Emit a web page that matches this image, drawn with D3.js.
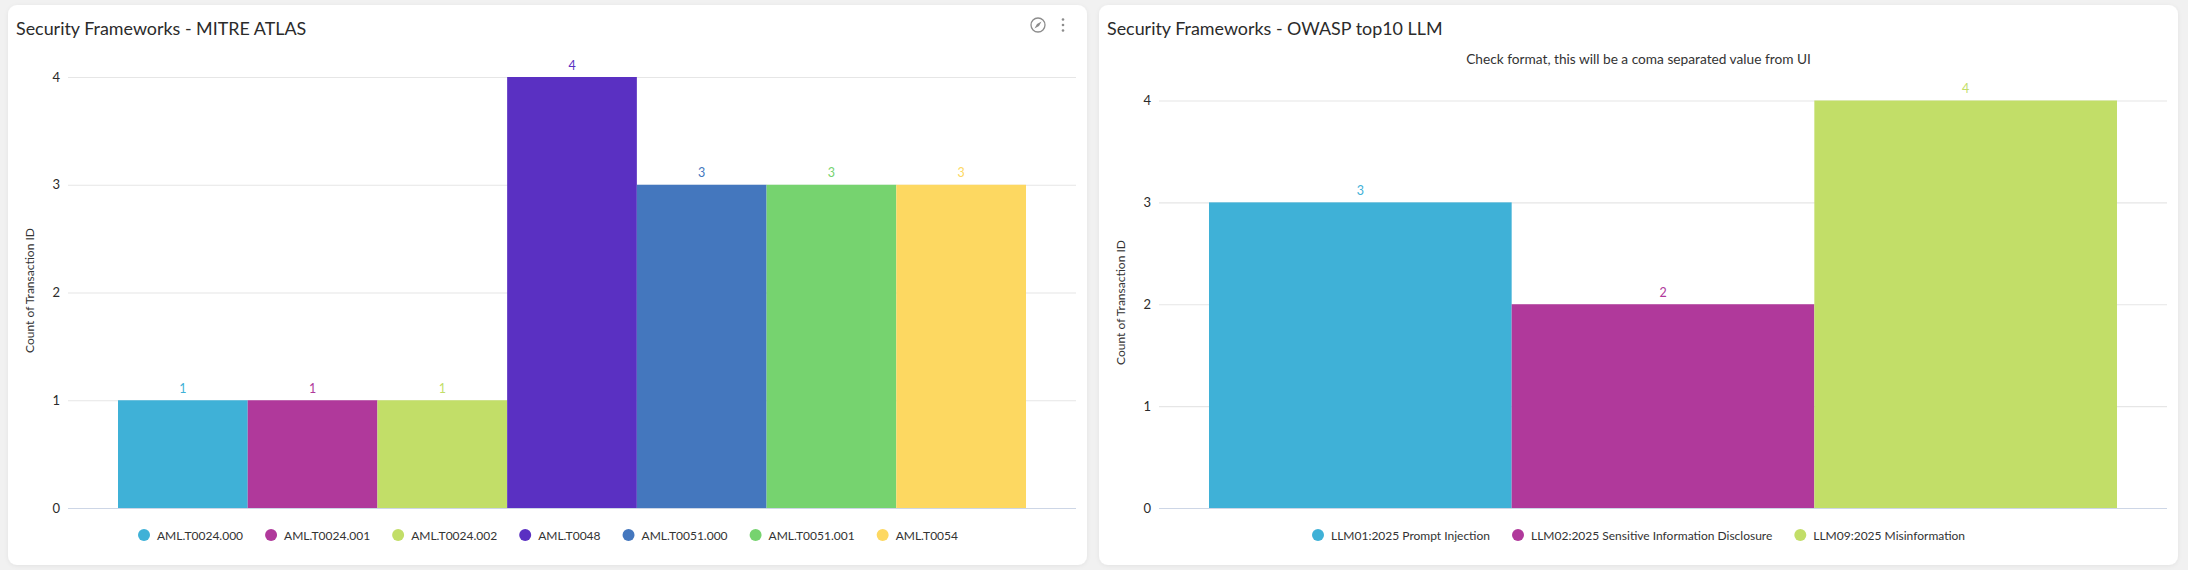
<!DOCTYPE html>
<html>
<head>
<meta charset="utf-8">
<script src="https://cdnjs.cloudflare.com/ajax/libs/d3/7.8.5/d3.min.js"></script>
<style>
  html, body { margin: 0; padding: 0; background: #f1f1f1; }
  svg { display: block; font-family: Lato, sans-serif; }
</style>
</head>
<body>
<div class="container"></div>
<script>
// chart values
var atlasNames = ["AML.T0024.000", "AML.T0024.001", "AML.T0024.002", "AML.T0048", "AML.T0051.000", "AML.T0051.001", "AML.T0054"];
var atlasCounts = [1, 1, 1, 4, 3, 3, 3];
var owaspNames = ["LLM01:2025 Prompt Injection", "LLM02:2025 Sensitive Information Disclosure", "LLM09:2025 Misinformation"];
var owaspCounts = [3, 2, 4];
var yTicks = [0, 1, 2, 3, 4];
var colors = ["#3fb1d7", "#b0399b", "#c2de68", "#5a30c2", "#4477be", "#76d36f", "#fdd861"];

var svg = d3.select(".container").append("svg")
  .attr("width", 2188)
  .attr("height", 570);

// drop shadow for the cards
var shadow = svg.append("defs").append("filter")
  .attr("id", "card-shadow")
  .attr("x", "-2%").attr("y", "-5%").attr("width", "104%").attr("height", "110%");
shadow.append("feDropShadow")
  .attr("dx", 0).attr("dy", 1).attr("stdDeviation", 2)
  .attr("flood-color", "#000").attr("flood-opacity", 0.06);

var drawPanel = function(opts) {
  var g = svg.append("g");

  g.append("rect")
    .attr("x", opts.left)
    .attr("y", 5)
    .attr("width", opts.right - opts.left)
    .attr("height", 560)
    .attr("rx", 9)
    .attr("fill", "#fff")
    .attr("filter", "url(#card-shadow)");

  g.append("text")
    .attr("x", opts.left + 8)
    .attr("y", 35)
    .attr("font-size", 17.9)
    .attr("fill", "#2b2b2b")
    .text(opts.title);

  if (opts.subtitle) {
    g.append("text")
      .attr("x", (opts.left + opts.right) / 2)
      .attr("y", 64)
      .attr("text-anchor", "middle")
      .attr("font-size", 13.7)
      .attr("fill", "#333")
      .text(opts.subtitle);
  }

  var x = d3.scaleBand()
    .domain(opts.names)
    .range([opts.x0, opts.x1])
    .paddingInner(0)
    .paddingOuter(opts.outer);

  var y = d3.scaleLinear()
    .domain([0, 4])
    .range([508, opts.yTop]);

  var axis = g.append("g")
    .attr("transform", "translate(" + opts.x0 + ",0)")
    .call(d3.axisLeft(y).tickValues(yTicks).tickFormat(d3.format("d")).tickSize(-(opts.x1 - opts.x0)).tickPadding(8));
  axis.select(".domain").remove();
  axis.selectAll(".tick line")
    .attr("stroke", function(d) { return d === 0 ? "#cdd6e6" : "#e6e6e6"; })
    .attr("stroke-width", 1.2);
  axis.selectAll(".tick text")
    .attr("font-family", "Lato, sans-serif")
    .attr("font-size", 13)
    .attr("fill", "#2b2b2b");

  g.append("text")
    .attr("transform", "translate(" + opts.yTitleX + "," + opts.yTitleY + ") rotate(-90)")
    .attr("text-anchor", "middle")
    .attr("font-size", 12)
    .attr("fill", "#333")
    .text("Count of Transaction ID");

  g.selectAll("rect.bar")
    .data(opts.names)
    .enter()
    .append("rect")
    .attr("class", "bar")
    .attr("x", function(d) { return x(d); })
    .attr("width", x.bandwidth())
    .attr("y", function(d, i) { return y(opts.counts[i]); })
    .attr("height", function(d, i) { return 508 - y(opts.counts[i]); })
    .attr("fill", function(d, i) { return colors[i]; });

  g.selectAll("text.value")
    .data(opts.names)
    .enter()
    .append("text")
    .attr("class", "value")
    .attr("x", function(d) { return x(d) + x.bandwidth() / 2; })
    .attr("y", function(d, i) { return y(opts.counts[i]) - 7.5; })
    .attr("text-anchor", "middle")
    .attr("font-size", 12.5)
    .attr("fill", function(d, i) { return colors[i]; })
    .text(function(d, i) { return opts.counts[i]; });

  // legend: lay out from the measured label widths
  var legend = g.append("g");
  var pos = 0;
  opts.names.forEach(function(name, i) {
    legend.append("circle")
      .attr("cx", pos + 6)
      .attr("cy", 535)
      .attr("r", 6)
      .attr("fill", colors[i]);
    var label = legend.append("text")
      .attr("x", pos + 19)
      .attr("y", 540)
      .attr("font-size", 12)
      .attr("fill", "#333")
      .text(name);
    pos += 19 + label.node().getComputedTextLength() + 22;
  });
  legend.attr("transform", "translate(" + (opts.legendX) + ",0)");
};

drawPanel({
  left: 8, right: 1087,
  x0: 68, x1: 1076, outer: 50 / 129.7, yTop: 77,
  names: atlasNames, counts: atlasCounts,
  title: "Security Frameworks - MITRE ATLAS",
  yTitleX: 33.5, yTitleY: 290.5,
  legendX: 138
});

drawPanel({
  left: 1099, right: 2178,
  x0: 1159, x1: 2167, outer: 50 / 302.7, yTop: 100.5,
  names: owaspNames, counts: owaspCounts,
  title: "Security Frameworks - OWASP top10 LLM",
  subtitle: "Check format, this will be a coma separated value from UI",
  yTitleX: 1124.5, yTitleY: 302.5,
  legendX: 1312
});

// panel toolbar icons on the first card
var icons = svg.append("g").attr("fill", "none").attr("stroke", "#8c8c8c");
icons.append("circle").attr("cx", 1038).attr("cy", 25).attr("r", 7).attr("stroke-width", 1.3);
icons.append("path").attr("d", d3.line()([[1034.5, 28.5], [1037, 24], [1041.5, 21.5], [1039, 26], [1034.5, 28.5]])).attr("fill", "#8c8c8c").attr("stroke", "none");
icons.selectAll("circle.dot")
  .data([19.5, 25, 30.5])
  .enter()
  .append("circle")
  .attr("class", "dot")
  .attr("cx", 1063)
  .attr("cy", function(d) { return d; })
  .attr("r", 1.3)
  .attr("fill", "#8c8c8c")
  .attr("stroke", "none");
</script>
</body>
</html>
